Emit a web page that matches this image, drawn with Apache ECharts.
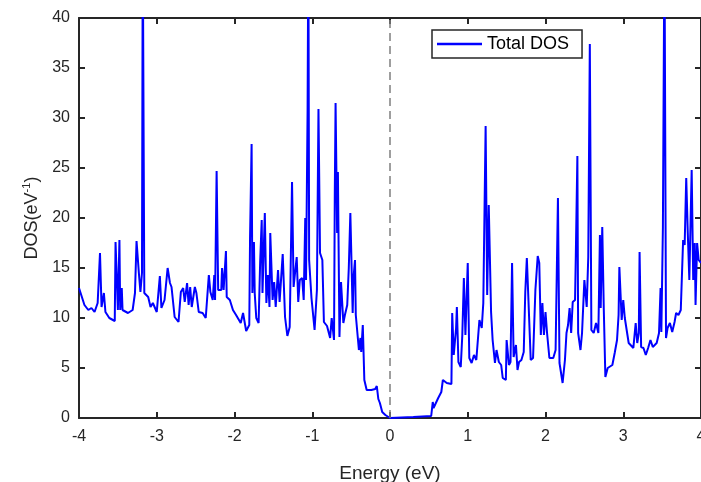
<!DOCTYPE html>
<html>
<head>
<meta charset="utf-8">
<script src="https://cdn.jsdelivr.net/npm/echarts@6/dist/echarts.min.js"></script>
<style>
  html, body { margin: 0; padding: 0; background: #fff; }
  #chart { width: 701px; height: 482px; }
</style>
</head>
<body>
<div id="chart"></div>
<script>
// energy (eV) and total DOS (1/eV)
var energy = [
  -4.00,-3.93,-3.88,-3.84,-3.80,-3.76,-3.73,-3.71,-3.68,-3.66,-3.61,-3.54,-3.53,-3.50,-3.48,-3.47,-3.45,-3.44,
  -3.37,-3.31,-3.28,-3.26,-3.23,-3.21,-3.19,-3.18,-3.16,-3.11,-3.08,-3.05,-3.00,-2.96,-2.94,-2.90,-2.86,-2.83,
  -2.81,-2.77,-2.72,-2.69,-2.66,-2.64,-2.61,-2.59,-2.57,-2.55,-2.51,-2.49,-2.46,-2.41,-2.37,-2.33,-2.31,-2.28,
  -2.26,-2.25,-2.23,-2.21,-2.17,-2.16,-2.14,-2.11,-2.10,-2.06,-2.02,-1.98,-1.92,-1.89,-1.85,-1.81,-1.80,-1.78,
  -1.77,-1.75,-1.74,-1.72,-1.69,-1.67,-1.65,-1.64,-1.61,-1.59,-1.57,-1.55,-1.54,-1.51,-1.49,-1.47,-1.44,-1.42,
  -1.38,-1.35,-1.32,-1.29,-1.26,-1.24,-1.20,-1.18,-1.16,-1.13,-1.11,-1.09,-1.08,-1.06,-1.05,-1.04,-1.01,-0.97,
  -0.94,-0.92,-0.90,-0.87,-0.85,-0.81,-0.77,-0.75,-0.72,-0.71,-0.70,-0.68,-0.67,-0.65,-0.63,-0.60,-0.58,-0.55,
  -0.53,-0.51,-0.48,-0.47,-0.45,-0.44,-0.42,-0.40,-0.38,-0.37,-0.35,-0.33,-0.30,-0.24,-0.22,-0.19,-0.17,-0.15,
  -0.13,-0.10,-0.06,0.00,0.30,0.53,0.55,0.56,0.62,0.66,0.68,0.73,0.79,0.80,0.82,0.85,0.86,0.88,0.91,0.93,0.95,
  0.97,1.00,1.02,1.05,1.08,1.11,1.15,1.18,1.20,1.22,1.23,1.25,1.27,1.30,1.32,1.35,1.37,1.40,1.43,1.45,1.49,1.50,
  1.53,1.55,1.57,1.59,1.62,1.64,1.66,1.69,1.72,1.74,1.76,1.78,1.81,1.84,1.87,1.90,1.92,1.94,1.96,1.98,2.00,2.02,
  2.05,2.10,2.13,2.16,2.18,2.22,2.25,2.27,2.29,2.31,2.33,2.35,2.38,2.39,2.41,2.42,2.45,2.47,2.50,2.53,2.55,2.57,
  2.59,2.62,2.65,2.68,2.70,2.71,2.73,2.75,2.77,2.80,2.86,2.89,2.92,2.94,2.95,2.98,3.00,3.02,3.04,3.07,3.13,3.16,
  3.18,3.20,3.21,3.23,3.26,3.29,3.32,3.35,3.38,3.43,3.46,3.48,3.49,3.51,3.53,3.55,3.57,3.60,3.63,3.66,3.68,3.71,
  3.74,3.77,3.79,3.81,3.83,3.85,3.88,3.90,3.92,3.93,3.95,3.97,4.00
];
var dos = [
  13.0,11.3,10.8,11.0,10.6,11.5,16.5,11.1,12.5,10.6,10.0,9.7,17.6,10.8,17.8,10.8,13.0,10.8,
  10.5,10.8,12.5,17.7,14.5,12.6,14.5,48.0,12.5,12.1,11.1,11.5,10.6,14.2,11.0,11.8,15.0,13.5,
  13.1,10.1,9.6,12.6,13.0,11.6,13.5,11.3,13.1,11.1,13.1,12.5,10.6,10.5,10.0,14.3,12.6,11.8,
  14.3,11.8,24.7,12.8,12.8,15.0,12.8,16.7,12.1,11.8,10.8,10.3,9.5,10.5,8.7,9.3,18.0,27.4,
  12.5,17.6,12.5,10.0,9.5,15.6,19.8,12.5,20.5,11.5,14.3,11.1,18.5,11.8,13.6,11.1,14.8,11.6,
  16.4,10.1,8.2,9.1,23.6,13.1,16.1,11.6,13.8,14.0,11.8,20.0,13.8,30.7,48.0,15.8,12.0,8.8,
  12.8,30.9,16.5,15.8,9.6,9.2,8.0,10.0,7.8,22.5,31.5,18.5,24.6,8.1,13.6,9.5,10.3,11.3,
  15.0,20.5,10.5,14.0,15.8,10.3,10.3,6.8,8.0,6.6,9.3,3.8,2.8,2.8,3.0,2.9,3.2,1.9,
  1.5,0.6,0.3,0.0,0.1,0.2,1.6,1.0,2.0,2.6,3.8,3.5,3.4,10.5,6.3,9.0,11.1,5.6,5.1,8.3,14.0,
  8.3,15.5,6.0,5.5,6.3,5.8,9.8,9.0,11.5,11.6,29.2,12.3,21.3,10.6,7.8,5.5,6.8,5.6,5.3,4.0,3.8,7.8,
  5.3,5.6,15.5,6.1,7.3,4.8,5.6,5.8,6.6,12.6,16.0,16.1,5.8,6.0,12.8,16.2,15.5,8.3,11.5,8.3,10.6,8.5,
  6.0,6.0,6.8,22.0,5.5,3.5,5.8,8.5,9.3,11.0,8.5,11.6,11.8,16.3,26.2,8.5,6.8,8.5,13.8,11.1,16.1,37.4,
  8.8,8.5,9.5,8.5,18.3,11.0,19.1,10.8,4.1,5.0,5.3,6.5,7.8,10.3,15.1,9.8,11.8,10.0,9.8,7.5,7.0,9.5,
  7.5,8.5,16.6,7.1,7.0,6.3,7.0,7.8,7.1,7.5,8.5,13.0,8.6,19.1,48.0,8.0,9.0,9.5,8.6,9.6,10.5,10.3,
  10.8,17.8,17.3,24.0,18.5,13.8,24.8,13.8,17.5,11.3,17.5,15.8,15.5
];
var xTicks = [-4, 4, 1];
var yTicks = [0, 40, 5];
var fermiLevel = 0;

var points = [];
for (var i = 0; i < energy.length; i++) {
    points.push([energy[i], dos[i]]);
}

var myChart = echarts.init(document.getElementById('chart'));
var font = "'Liberation Sans', Arial, Helvetica, sans-serif";
var dark = '#262626';

option = {
    animation: false,
    backgroundColor: '#fff',
    grid: { left: 79, top: 18, right: 0, bottom: 64, outerBoundsMode: 'none' },
    legend: {
        left: 432, top: 30,
        data: [{ name: 'Total DOS', icon: 'rect' }],
        borderColor: '#262626',
        borderWidth: 1.5,
        padding: [5, 13, 5, 5],
        itemWidth: 45,
        itemHeight: 2.5,
        itemGap: 5,
        textStyle: { fontFamily: font, fontSize: 18, color: '#000' }
    },
    xAxis: [{
        type: 'value',
        min: xTicks[0], max: xTicks[1], interval: xTicks[2],
        name: 'Energy (eV)',
        nameLocation: 'middle',
        nameGap: 46,
        nameTextStyle: { fontFamily: font, fontSize: 19, color: dark },
        axisLine: { onZero: false, lineStyle: { color: dark, width: 2 } },
        axisTick: { inside: true, length: 6, lineStyle: { color: dark, width: 2 } },
        axisLabel: { fontFamily: font, fontSize: 16, color: dark, margin: 11 },
        splitLine: { show: false }
    }, {
        type: 'value', position: 'top',
        min: xTicks[0], max: xTicks[1], interval: xTicks[2],
        axisLine: { onZero: false, lineStyle: { color: dark, width: 2 } },
        axisTick: { inside: true, length: 6, lineStyle: { color: dark, width: 2 } },
        axisLabel: { show: false },
        splitLine: { show: false }
    }],
    yAxis: [{
        type: 'value',
        min: yTicks[0], max: yTicks[1], interval: yTicks[2],
        name: 'DOS(eV{sup|-1})',
        nameLocation: 'middle',
        nameGap: 33,
        nameTextStyle: {
            fontFamily: font, fontSize: 18, color: dark,
            rich: { sup: { fontFamily: font, fontSize: 11, color: dark, verticalAlign: 'top', padding: [0, 0, 10, 0] } }
        },
        axisLine: { onZero: false, lineStyle: { color: dark, width: 2 } },
        axisTick: { inside: true, length: 6, lineStyle: { color: dark, width: 2 } },
        axisLabel: { fontFamily: font, fontSize: 16, color: dark, margin: 9 },
        splitLine: { show: false }
    }, {
        type: 'value', position: 'right',
        min: yTicks[0], max: yTicks[1], interval: yTicks[2],
        axisLine: { show: true, onZero: false, lineStyle: { color: dark, width: 2 } },
        axisTick: { show: true, inside: true, length: 6, lineStyle: { color: dark, width: 2 } },
        axisLabel: { show: false },
        splitLine: { show: false }
    }],
    series: [{
        name: 'Total DOS',
        type: 'line',
        data: points,
        symbol: 'none',
        clip: true,
        lineStyle: { color: '#0000ff', width: 2 },
        itemStyle: { color: '#0000ff' },
        markLine: {
            silent: true,
            symbol: 'none',
            label: { show: false },
            lineStyle: { color: '#7f7f7f', type: [8, 5], width: 1.5 },
            data: [{ xAxis: fermiLevel }]
        }
    }]
};

myChart.setOption(option);
</script>
</body>
</html>
